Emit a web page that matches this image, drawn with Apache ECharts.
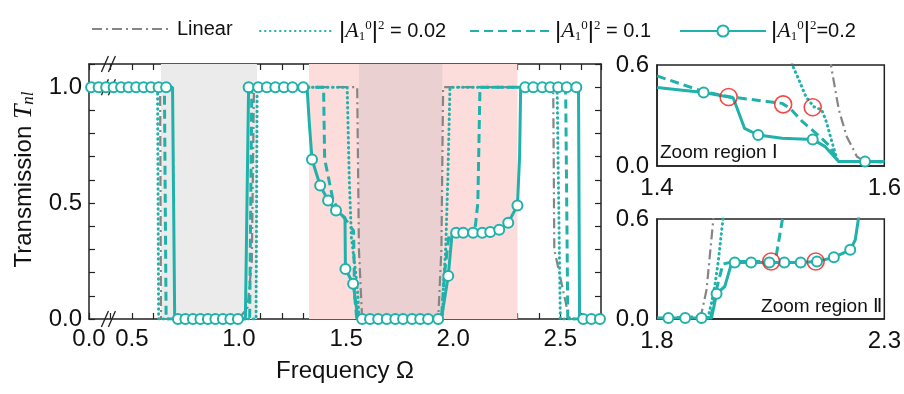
<!DOCTYPE html>
<html>
<head>
<meta charset="utf-8">
<script src="https://cdn.jsdelivr.net/npm/echarts@6/dist/echarts.min.js"></script>
<style>
  html, body { margin: 0; background: #fff; }
  #chart { width: 904px; height: 394px; }
</style>
</head>
<body>
<div id="chart"></div>
<script>
const TEAL = '#1fb1aa'
const FONT = '"Liberation Sans", Arial, sans-serif'
const SERIF = '"Liberation Serif", "Times New Roman", serif'

// shaded bands (frequency ranges)
const grayBand = [0.636, 1.084]
const pinkBand = [1.327, 2.30]
const overlapBand = [1.56, 1.949]

// main plot: Linear
const linX = [0.3, 0.632, 0.636, 1.0, 1.04, 1.06, 1.07, 1.552, 1.56, 1.575, 1.93, 1.945, 1.953, 2.467, 2.472, 2.53, 2.545, 2.69]
const linY = [1, 1, 0, 0, 0.05, 0.25, 1, 1, 0.3, 0, 0, 0.3, 1, 1, 0.3, 0.05, 0, 0]

// main plot: |A|^2 = 0.02
const p02X = [0.3, 0.62, 0.625, 1.08, 1.085, 1.505, 1.515, 1.525, 1.545, 1.555, 1.56, 1.95, 1.955, 1.965, 1.975, 1.985, 2.485, 2.5, 2.69]
const p02Y = [1, 1, 0, 0, 1, 1, 0.6, 0.35, 0.2, 0.1, 0, 0, 0.15, 0.3, 0.6, 1, 1, 0, 0]

// main plot: |A|^2 = 0.1
const p1X = [0.3, 0.652, 0.66, 1.05, 1.06, 1.395, 1.40, 1.44, 1.48, 1.505, 1.535, 1.54, 1.55, 1.945, 1.96, 1.98, 2.10, 2.115, 2.125, 2.525, 2.535, 2.69]
const p1Y = [1, 1, 0, 0, 1, 1, 0.69, 0.51, 0.45, 0.42, 0.38, 0.1, 0, 0, 0.2, 0.36, 0.37, 0.5, 1, 1, 0, 0]

// main plot: |A|^2 = 0.2 (mark = 1 where a circle is drawn)
const p2X = [0.3, 0.31, 0.345, 0.38, 0.415, 0.45, 0.485, 0.52, 0.555, 0.59, 0.625, 0.66, 0.69, 0.70,
  0.715, 0.75, 0.785, 0.82, 0.855, 0.89, 0.925, 0.96, 0.995, 1.03,
  1.045, 1.09, 1.13, 1.17, 1.21, 1.25, 1.30, 1.318, 1.328,
  1.341, 1.379, 1.416, 1.453, 1.495, 1.497, 1.533, 1.556,
  1.575, 1.612, 1.65, 1.69, 1.73, 1.766, 1.808, 1.846, 1.883, 1.93, 1.945,
  1.977, 1.995, 2.014, 2.047, 2.093, 2.136, 2.173, 2.215, 2.257, 2.30, 2.31, 2.315,
  2.336, 2.374, 2.416, 2.453, 2.49, 2.53, 2.575, 2.585, 2.59, 2.607, 2.645, 2.685]
const p2Y = [1, 1, 1, 1, 1, 1, 1, 1, 1, 1, 1, 1, 1, 0,
  0, 0, 0, 0, 0, 0, 0, 0, 0, 0,
  1, 1, 1, 1, 1, 1, 1, 1, 0.85,
  0.688, 0.576, 0.511, 0.468, 0.437, 0.216, 0.152, 0,
  0, 0, 0, 0, 0, 0, 0, 0, 0, 0, 0,
  0.186, 0.37, 0.372, 0.372, 0.372, 0.372, 0.375, 0.385, 0.415, 0.49, 0.7, 1,
  1, 1, 1, 1, 1, 1, 1, 1, 0, 0, 0, 0]
const p2M = [0, 1, 1, 1, 1, 1, 1, 1, 1, 1, 1, 1, 0, 0,
  1, 1, 1, 1, 1, 1, 1, 1, 1, 0,
  1, 1, 1, 1, 1, 1, 1, 0, 0,
  1, 1, 1, 1, 0, 1, 1, 0,
  1, 1, 1, 1, 1, 1, 1, 1, 1, 1, 0,
  1, 0, 1, 1, 1, 1, 1, 1, 1, 1, 0, 0,
  1, 1, 1, 1, 1, 1, 1, 0, 0, 1, 1, 1]

// zoom region I
const z1LinX = [1.55, 1.553, 1.56, 1.567, 1.576, 1.583, 1.6]
const z1LinY = [1, 0.6, 0.333, 0.174, 0.055, 0.026, 0.02]
const z1p02X = [1.515, 1.519, 1.525, 1.531, 1.538, 1.545, 1.549, 1.553, 1.556, 1.559, 1.6]
const z1p02Y = [1, 0.6, 0.51, 0.412, 0.352, 0.333, 0.263, 0.164, 0.095, 0.026, 0.026]
const z1p1X = [1.4, 1.441, 1.465, 1.51, 1.517, 1.528, 1.54, 1.551, 1.56, 1.6]
const z1p1Y = [0.535, 0.442, 0.41, 0.372, 0.343, 0.263, 0.194, 0.125, 0.026, 0.026]
const z1p2X = [1.4, 1.441, 1.467, 1.477, 1.489, 1.51, 1.537, 1.548, 1.56, 1.583, 1.6]
const z1p2Y = [0.467, 0.436, 0.405, 0.224, 0.184, 0.165, 0.158, 0.115, 0.026, 0.026, 0.026]
const z1p2M = [0, 1, 0, 0, 1, 0, 1, 0, 0, 1, 0]
const z1RedX = [1.463, 1.511, 1.537]
const z1RedY = [0.41, 0.366, 0.349]

// zoom region II
const z2LinX = [1.8, 1.887, 1.898, 1.909, 1.916, 1.924, 1.93]
const z2LinY = [0.006, 0.016, 0.036, 0.175, 0.375, 0.6, 1]
const z2p02X = [1.912, 1.92, 1.927, 1.935, 1.945, 1.95]
const z2p02Y = [0.006, 0.1, 0.195, 0.35, 0.6, 1]
const z2p1X = [1.918, 1.93, 1.945, 1.97, 2.04, 2.055, 2.062, 2.076, 2.085]
const z2p1Y = [0.006, 0.17, 0.33, 0.345, 0.345, 0.35, 0.375, 0.6, 1]
const z2p2X = [1.8, 1.825, 1.862, 1.898, 1.92, 1.931, 1.949, 1.963, 1.971, 2.007, 2.047, 2.08, 2.116, 2.152, 2.189, 2.225, 2.236, 2.243, 2.25]
const z2p2Y = [0.006, 0.006, 0.006, 0.006, 0.006, 0.152, 0.195, 0.325, 0.339, 0.339, 0.339, 0.339, 0.339, 0.345, 0.37, 0.415, 0.474, 0.6, 1]
const z2p2M = [0, 1, 1, 1, 0, 1, 0, 0, 1, 1, 1, 1, 1, 1, 1, 1, 0, 0, 0]
const z2RedX = [2.051, 2.149]
const z2RedY = [0.345, 0.345]

const legendNames = {
  lin: 'Linear',
  p02: '{bar||}{it|A}{sb|1}{sp|0}{bar||}{sp|2} = 0.02',
  p1: '{bar||}{it|A}{sb|1}{sp|0}{bar||}{sp|2} = 0.1',
  p2: '{bar||}{it|A}{sb|1}{sp|0}{bar||}{sp|2}=0.2',
}

const pts = (xs, ys) => xs.map((x, i) => [x, ys[i]])
const marked = (xs, ys, ms) => xs.map((x, i) => ({ value: [x, ys[i]], symbol: ms[i] ? 'circle' : 'none' }))

const linStyle = { color: '#858585', width: 2.2, type: [10, 4, 2, 4] }
const dotStyle = { color: TEAL, width: 3, type: [0.5, 4.5], cap: 'round' }
const dashStyle = { color: TEAL, width: 3, type: [9, 5] }
const solidStyle = { color: TEAL, width: 3 }

function lineSeries(name, data, lineStyle, xi, yi) {
  return {
    name, type: 'line', xAxisIndex: xi, yAxisIndex: yi, data,
    symbol: 'none', lineStyle, itemStyle: { color: lineStyle.color },
    animation: false, silent: true, z: 3,
  }
}
function circleSeries(data, xi, yi) {
  return {
    name: 'p2', type: 'line', xAxisIndex: xi, yAxisIndex: yi, data,
    symbol: 'circle', symbolSize: 10, showSymbol: true, showAllSymbol: true,
    lineStyle: solidStyle,
    itemStyle: { color: '#fff', borderColor: TEAL, borderWidth: 2 },
    animation: false, silent: true, z: 4,
  }
}
function redSeries(xs, ys, xi, yi) {
  return {
    name: 'red', type: 'scatter', xAxisIndex: xi, yAxisIndex: yi, data: pts(xs, ys),
    symbol: 'circle', symbolSize: 17,
    itemStyle: { color: 'rgba(0,0,0,0)', borderColor: '#f01c1c', borderWidth: 1.6 },
    animation: false, silent: true, z: 5,
  }
}

const tickLbl = { fontSize: 24, color: '#111', fontFamily: FONT }
const frameLine = { lineStyle: { color: '#222', width: 1.5 } }

const mainX = {
  type: 'value', gridIndex: 0, min: 0.3, max: 2.69, interval: 0.1,
  axisLine: { show: true, onZero: false, ...frameLine },
  axisTick: { inside: true, length: 6, lineStyle: { color: '#222', width: 1.2 } },
  axisLabel: {
    ...tickLbl, margin: 8,
    formatter: v => {
      const k = Math.round(v * 10)
      if (k === 3) return '0.0'
      return k % 5 === 0 ? (k / 10).toFixed(1) : ''
    },
  },
  splitLine: { show: false },
  name: 'Frequency Ω', nameLocation: 'middle', nameGap: 40,
  nameTextStyle: { fontSize: 24, color: '#111', fontFamily: FONT },
}
const mainY = {
  type: 'value', gridIndex: 0, min: 0, max: 1.1, interval: 0.1,
  axisLine: { show: true, onZero: false, ...frameLine },
  axisTick: { inside: true, length: 6, lineStyle: { color: '#222', width: 1.2 } },
  axisLabel: {
    ...tickLbl, margin: 7,
    formatter: v => {
      const k = Math.round(v * 10)
      return k % 5 === 0 && k <= 10 ? (k / 10).toFixed(1) : ''
    },
  },
  splitLine: { show: false },
  name: 'Transmission {it|T}{sub|nl}', nameLocation: 'middle', nameGap: 52,
  nameTextStyle: {
    fontSize: 24, color: '#111', fontFamily: FONT, padding: [0, 0, 0, 24],
    rich: {
      it: { fontSize: 26, fontFamily: SERIF, fontStyle: 'italic', color: '#111' },
      sub: { fontSize: 17, fontFamily: SERIF, fontStyle: 'italic', color: '#111', verticalAlign: 'bottom' },
    },
  },
}

function insetX(grid, min, max, keep) {
  return {
    type: 'value', gridIndex: grid, min, max, interval: 0.1,
    axisLine: { show: true, onZero: false, ...frameLine },
    axisTick: { show: false },
    axisLabel: { ...tickLbl, margin: 10, formatter: v => keep.includes(Math.round(v * 10)) ? v.toFixed(1) : '' },
    splitLine: { show: false },
  }
}
function insetY(grid) {
  return {
    type: 'value', gridIndex: grid, min: 0, max: 0.6, interval: 0.6,
    axisLine: { show: true, onZero: false, ...frameLine },
    axisTick: { show: false },
    axisLabel: { ...tickLbl, margin: 8, formatter: v => v.toFixed(1) },
    splitLine: { show: false },
  }
}

const legendRich = {
  bar: { fontSize: 24, fontFamily: FONT, color: '#111' },
  it: { fontSize: 22, fontFamily: SERIF, fontStyle: 'italic', color: '#111' },
  sb: { fontSize: 13, fontFamily: SERIF, color: '#111', verticalAlign: 'bottom' },
  sp: { fontSize: 13, fontFamily: SERIF, color: '#111', verticalAlign: 'top' },
}
function legendAt(left, width, key, hideDot) {
  const lg = {
    left, top: 14, itemWidth: width, itemHeight: 14, itemGap: 0,
    data: [key], selectedMode: false,
    formatter: n => legendNames[n],
    textStyle: { fontSize: 20, fontFamily: FONT, color: '#111', rich: legendRich },
  }
  if (hideDot) lg.itemStyle = { opacity: 0 }
  return lg
}

const bandArea = (range, color) => [{ xAxis: range[0], itemStyle: { color } }, { xAxis: range[1] }]

const chart = echarts.init(document.getElementById('chart'))

const option = {
  backgroundColor: '#fff',
  animation: false,
  legend: [
    legendAt(86, 80, 'lin', true),
    legendAt(254, 74, 'p02', true),
    legendAt(464, 80, 'p1', true),
    legendAt(674, 86, 'p2', false),
  ],
  grid: [
    { left: 89, top: 64, width: 512, height: 255 },
    { left: 657, top: 65, width: 229, height: 101, show: true, borderColor: '#222', borderWidth: 1.5 },
    { left: 657, top: 219, width: 229, height: 100, show: true, borderColor: '#222', borderWidth: 1.5 },
  ],
  xAxis: [
    mainX,
    { ...mainX, position: 'top', axisLabel: { show: false }, name: '' },
    insetX(1, 1.4, 1.6, [14, 16]),
    insetX(2, 1.8, 2.3, [18, 23]),
  ],
  yAxis: [
    mainY,
    { ...mainY, position: 'right', axisLabel: { show: false }, name: '' },
    insetY(1),
    insetY(2),
  ],
  series: [
    {
      name: 'bands', type: 'line', xAxisIndex: 0, yAxisIndex: 0, data: [], silent: true, z: 1,
      markArea: {
        silent: true, label: { show: false },
        data: [
          bandArea(grayBand, '#ebebeb'),
          bandArea(pinkBand, '#fddcdc'),
          bandArea(overlapBand, '#ebd0d2'),
        ],
      },
    },
    lineSeries('lin', pts(linX, linY), linStyle, 0, 0),
    lineSeries('p02', pts(p02X, p02Y), dotStyle, 0, 0),
    lineSeries('p1', pts(p1X, p1Y), dashStyle, 0, 0),
    circleSeries(marked(p2X, p2Y, p2M), 0, 0),

    lineSeries('lin', pts(z1LinX, z1LinY), linStyle, 2, 2),
    lineSeries('p02', pts(z1p02X, z1p02Y), dotStyle, 2, 2),
    lineSeries('p1', pts(z1p1X, z1p1Y), dashStyle, 2, 2),
    circleSeries(marked(z1p2X, z1p2Y, z1p2M), 2, 2),
    redSeries(z1RedX, z1RedY, 2, 2),

    lineSeries('lin', pts(z2LinX, z2LinY), linStyle, 3, 3),
    lineSeries('p02', pts(z2p02X, z2p02Y), dotStyle, 3, 3),
    lineSeries('p1', pts(z2p1X, z2p1Y), dashStyle, 3, 3),
    circleSeries(marked(z2p2X, z2p2Y, z2p2M), 3, 3),
    redSeries(z2RedX, z2RedY, 3, 3),
  ],
}

chart.setOption(option)

// axis-break marks "//" at Ω = 0.4 on both frame edges and on the T = 1 level
const bx = chart.convertToPixel({ xAxisIndex: 0 }, 0.4)
const yBottom = chart.convertToPixel({ yAxisIndex: 0 }, 0)
const yTop = chart.convertToPixel({ yAxisIndex: 0 }, 1.1)
const yOne = chart.convertToPixel({ yAxisIndex: 0 }, 1)

function breakMark(cx, cy) {
  return {
    type: 'group', x: cx, y: cy, z: 100,
    children: [
      { type: 'polygon', shape: { points: [[-6, 8], [-1, 8], [5, -8], [0, -8]] }, style: { fill: '#fff' } },
      { type: 'line', shape: { x1: -9, y1: 8, x2: -2, y2: -8 }, style: { stroke: '#222', lineWidth: 1.3 } },
      { type: 'line', shape: { x1: -2, y1: 8, x2: 5, y2: -8 }, style: { stroke: '#222', lineWidth: 1.3 } },
    ],
  }
}

chart.setOption({
  graphic: [
    breakMark(bx, yBottom),
    breakMark(bx, yTop),
    breakMark(bx, yOne),
    {
      type: 'text', left: 660, top: 143, z: 100,
      style: { text: 'Zoom region Ⅰ', fontSize: 19, fontFamily: FONT, fill: '#111' },
    },
    {
      type: 'text', right: 904 - 882, top: 297, z: 100,
      style: { text: 'Zoom region Ⅱ', fontSize: 19, fontFamily: FONT, fill: '#111' },
    },
  ],
})
</script>
</body>
</html>
